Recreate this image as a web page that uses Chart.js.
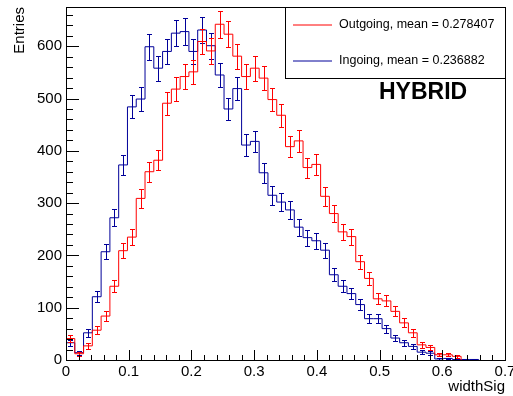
<!DOCTYPE html>
<html><head><meta charset="utf-8">
<script src="https://cdn.jsdelivr.net/npm/chart.js@4/dist/chart.umd.min.js"></script>
<style>html,body{margin:0;padding:0;background:#fff;overflow:hidden;}</style>
</head><body>
<canvas id="c" width="513" height="396"></canvas>
<script>
// ---- data ----
const binWidth = 0.014;
const binEdges = [0,0.014,0.028,0.042,0.056,0.07,0.084,0.098,0.112,0.126,0.14,0.154,0.168,0.182,0.196,0.21,
  0.224,0.238,0.252,0.266,0.28,0.294,0.308,0.322,0.336,0.35,0.364,0.378,0.392,0.406,0.42,0.434,0.448,0.462,
  0.476,0.49,0.504,0.518,0.532,0.546,0.56,0.574,0.588,0.602,0.616,0.63,0.644,0.658];
const outgoingLabel = "Outgoing, mean = 0.278407";
const outgoing = [41,12,27,57,84,141,209,235,309,360,382,491,518,542,551,609,591,642,623,581,542,558,539,498,
  468,408,419,368,374,313,280,245,236,188,156,117,113,93,71,52,29,24,10,10,7];
const ingoingLabel = "Ingoing, mean = 0.236882";
const ingoing = [33,14,52,121,207,272,373,484,499,599,558,590,625,628,590,631,601,545,480,519,411,418,358,315,
  302,287,254,234,228,210,163,141,127,106,79,79,60,42,33,26,15,13,2,3,1,1,1];
const xTickValues = [0,0.1,0.2,0.3,0.4,0.5,0.6,0.7];
const xTickLabels = ["0","0.1","0.2","0.3","0.4","0.5","0.6","0.7"];
const yTickValues = [0,100,200,300,400,500,600];
const yTickLabels = ["0","100","200","300","400","500","600"];
const xTitle = "widthSig", yTitle = "Entries", tag = "HYBRID";

const FONT = "'Liberation Sans', Arial, Helvetica, sans-serif";

function stepPoints(vals){
  const pts = [{x: binEdges[0], y: 0}];
  vals.forEach((v,i)=>pts.push({x: binEdges[i], y: v}));
  pts.push({x: binEdges[vals.length], y: 0});
  return pts;
}

const errorBars = {
  id: 'errorBars',
  afterDatasetDraw(chart, args){
    const ds = chart.data.datasets[args.index];
    const {ctx, scales:{x, y}} = chart;
    ctx.save();
    ctx.strokeStyle = ds.borderColor; ctx.lineWidth = 1;
    ds.binValues.forEach((v,i)=>{
      if (v <= 0) return;
      const e = Math.sqrt(v);
      const cx = Math.round(x.getPixelForValue(binEdges[i] + binWidth/2)) + 0.5;
      const y1 = Math.round(y.getPixelForValue(v + e)) + 0.5;
      const y2 = Math.round(y.getPixelForValue(Math.max(0, v - e))) + 0.5;
      ctx.beginPath();
      ctx.moveTo(cx, y1); ctx.lineTo(cx, y2);
      ctx.moveTo(cx-2.5, y1); ctx.lineTo(cx+2.5, y1);
      ctx.moveTo(cx-2.5, y2); ctx.lineTo(cx+2.5, y2);
      ctx.stroke();
    });
    ctx.restore();
  }
};

const frameAndExtras = {
  id: 'frameAndExtras',
  afterDraw(chart){
    const {ctx, chartArea:a, scales:{x, y}} = chart;
    ctx.save();
    ctx.strokeStyle = '#000'; ctx.lineWidth = 1;
    ctx.strokeRect(Math.round(a.left)+0.5, Math.round(a.top)+0.5, Math.round(a.right-a.left), Math.round(a.bottom-a.top));
    // inward tick marks
    ctx.beginPath();
    for (let i=0;i<=35;i++){
      const px = Math.round(x.getPixelForValue(i*0.02))+0.5;
      const len = (i%5===0) ? 10 : 5;
      ctx.moveTo(px, a.bottom); ctx.lineTo(px, a.bottom - len);
    }
    for (let i=0;i<=33;i++){
      const py = Math.round(y.getPixelForValue(i*20))+0.5;
      const len = (i%5===0) ? 13 : 7;
      ctx.moveTo(a.left, py); ctx.lineTo(a.left + len, py);
    }
    ctx.stroke();
    // legend box
    const lx = 285.5, ly = Math.round(a.top)+0.5, lw = Math.round(a.right) - 285, lh = 71;
    ctx.fillStyle = '#fff'; ctx.fillRect(lx, ly, lw, lh);
    ctx.strokeRect(lx, ly, lw, lh);
    const rows = [ly + 17.5, ly + 53.5];
    chart.data.datasets.forEach((ds, i)=>{
      ctx.strokeStyle = ds.borderColor;
      ctx.beginPath(); ctx.moveTo(293, rows[i]); ctx.lineTo(332, rows[i]); ctx.stroke();
      ctx.fillStyle = '#000'; ctx.font = "12.5px " + FONT;
      ctx.textBaseline = 'middle'; ctx.textAlign = 'left';
      ctx.fillText(ds.label, 339, rows[i]);
    });
    // tag text
    ctx.fillStyle = '#000'; ctx.font = "bold 23px " + FONT;
    ctx.textBaseline = 'alphabetic'; ctx.textAlign = 'left';
    ctx.fillText(tag, 379, 99);
    ctx.restore();
  }
};

new Chart(document.getElementById('c'), {
  type: 'line',
  data: {
    datasets: [
      {label: outgoingLabel, data: stepPoints(outgoing), binValues: outgoing, borderColor: '#ff0000',
       borderWidth: 1, pointRadius: 0, stepped: true, fill: false, tension: 0},
      {label: ingoingLabel, data: stepPoints(ingoing), binValues: ingoing, borderColor: '#000099',
       borderWidth: 1, pointRadius: 0, stepped: true, fill: false, tension: 0}
    ]
  },
  options: {
    responsive: false, animation: false, devicePixelRatio: 1,
    layout: {padding: {top: 7, right: 8, left: 0, bottom: 0}},
    plugins: {legend: {display: false}, tooltip: {enabled: false}},
    scales: {
      x: {
        type: 'linear', min: 0, max: 0.7,
        afterBuildTicks: s => { s.ticks = xTickValues.map(v => ({value: v})); },
        afterFit: s => { s.height = 36; s.paddingLeft = 0; s.paddingRight = 0; },
        grid: {display: false, drawTicks: false},
        border: {display: false},
        ticks: {padding: 3, color: '#000', font: {family: FONT, size: 15}, maxRotation: 0, autoSkip: false,
          callback: (v, i) => xTickLabels[i]},
        title: {display: true, text: xTitle, align: 'end', color: '#000', font: {family: FONT, size: 15}, padding: 0}
      },
      y: {
        type: 'linear', min: 0, max: 675,
        afterBuildTicks: s => { s.ticks = yTickValues.map(v => ({value: v})); },
        afterFit: s => { s.width = 66; s.paddingTop = 0; s.paddingBottom = 0; },
        grid: {display: false, drawTicks: false},
        border: {display: false},
        ticks: {padding: 4, color: '#000', font: {family: FONT, size: 15}, autoSkip: false,
          callback: (v, i) => yTickLabels[i]},
        title: {display: true, text: yTitle, align: 'end', color: '#000', font: {family: FONT, size: 15}, padding: {top: 11, bottom: 0}}
      }
    }
  },
  plugins: [errorBars, frameAndExtras]
});
</script>
</body></html>
